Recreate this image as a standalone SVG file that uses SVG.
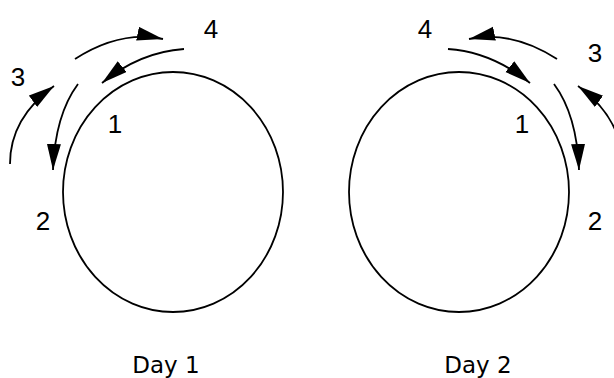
<svg xmlns="http://www.w3.org/2000/svg" width="614" height="378" viewBox="0 0 614 378">
<style>
.shape{fill:none;stroke:#000;stroke-width:1.8}
.arc{fill:none;stroke:#000;stroke-width:1.8;marker-end:url(#ah)}
.num{font-family:"Liberation Sans",Arial,sans-serif;font-size:26px;fill:#000;text-anchor:middle}
.day{font-family:"DejaVu Sans",Verdana,sans-serif;font-size:23px;fill:#000;text-anchor:middle}
</style>
<defs>
<marker id="ah" markerUnits="userSpaceOnUse" markerWidth="28" markerHeight="16" refX="26" refY="7" orient="auto">
<path d="M0,0 L26,7 L0,14 z" fill="#000"/>
</marker>
</defs>
<rect width="614" height="378" fill="#fff"/>
<g id="day1">
<ellipse class="shape" cx="173" cy="192" rx="110" ry="120"/>
<text class="num" x="211" y="38">4</text>
<text class="num" x="18" y="86">3</text>
<text class="num" x="115" y="133">1</text>
<text class="num" x="43" y="230">2</text>
<text class="day" x="166" y="373">Day 1</text>
</g>
<g id="day2">
<ellipse class="shape" cx="459" cy="192" rx="110" ry="120"/>
<text class="num" x="425" y="38">4</text>
<text class="num" x="595" y="62">3</text>
<text class="num" x="522" y="133">1</text>
<text class="num" x="595" y="230">2</text>
<text class="day" x="478" y="373">Day 2</text>
</g>
<g id="connectors">
<path class="arc" d="M75,59 Q120,30 163,39"/>
<path class="arc" d="M184,49 Q140,52 102,83"/>
<path class="arc" d="M78,84 Q55,115 53,170"/>
<path class="arc" d="M10,164 Q10,118 54,86"/>
<path class="arc" d="M557,59 Q512,30 469,39"/>
<path class="arc" d="M448,49 Q492,52 530,83"/>
<path class="arc" d="M554,84 Q577,115 579,170"/>
<path class="arc" d="M622,164 Q622,118 578,86"/>
</g>
</svg>
